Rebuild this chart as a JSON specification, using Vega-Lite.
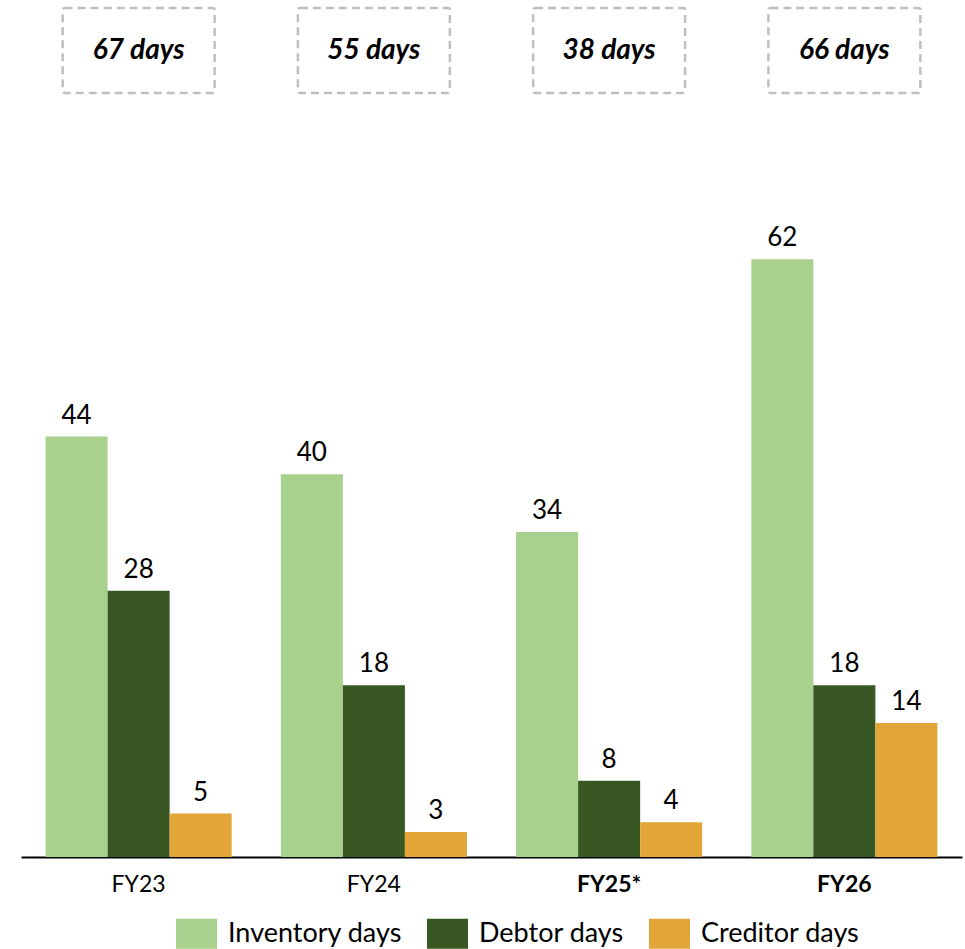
{
  "$schema": "https://vega.github.io/schema/vega-lite/v6.json",
  "padding": {"left": 21, "top": 6, "right": 3, "bottom": 0},
  "background": "white",
  "config": {
    "font": "Lato",
    "view": {"stroke": null},
    "concat": {"spacing": 87}
  },
  "datasets": {
    "totals": [
      {"year": "FY23", "label": "67 days"},
      {"year": "FY24", "label": "55 days"},
      {"year": "FY25*", "label": "38 days"},
      {"year": "FY26", "label": "66 days"}
    ],
    "days": [
      {"year": "FY23", "series": "Inventory days", "value": 43.6},
      {"year": "FY23", "series": "Debtor days", "value": 27.6},
      {"year": "FY23", "series": "Creditor days", "value": 4.5},
      {"year": "FY24", "series": "Inventory days", "value": 39.7},
      {"year": "FY24", "series": "Debtor days", "value": 17.8},
      {"year": "FY24", "series": "Creditor days", "value": 2.6},
      {"year": "FY25*", "series": "Inventory days", "value": 33.7},
      {"year": "FY25*", "series": "Debtor days", "value": 7.9},
      {"year": "FY25*", "series": "Creditor days", "value": 3.6},
      {"year": "FY26", "series": "Inventory days", "value": 62.0},
      {"year": "FY26", "series": "Debtor days", "value": 17.8},
      {"year": "FY26", "series": "Creditor days", "value": 13.9}
    ]
  },
  "resolve": {"scale": {"x": "independent"}},
  "vconcat": [
    {
      "width": 941,
      "height": 85,
      "data": {"name": "totals"},
      "encoding": {
        "x": {
          "field": "year",
          "type": "nominal",
          "sort": null,
          "axis": null,
          "scale": {"paddingInner": 0.354, "paddingOuter": 0.177}
        }
      },
      "layer": [
        {
          "mark": {
            "type": "rect",
            "fill": "white",
            "stroke": "#bfbfbf",
            "strokeWidth": 2.5,
            "strokeDash": [8, 5],
            "cornerRadius": 2
          }
        },
        {
          "mark": {
            "type": "text",
            "fontSize": 28,
            "fontWeight": "bold",
            "fontStyle": "italic",
            "color": "black",
            "baseline": "middle",
            "align": "center"
          },
          "encoding": {"text": {"field": "label"}}
        }
      ]
    },
    {
      "width": 941,
      "height": 675,
      "data": {"name": "days"},
      "encoding": {
        "x": {
          "field": "year",
          "type": "nominal",
          "sort": null,
          "title": null,
          "scale": {"paddingInner": 0.209, "paddingOuter": 0.1045},
          "axis": {
            "domainColor": "black",
            "domainWidth": 2,
            "ticks": false,
            "labelAngle": 0,
            "labelFontSize": 23,
            "labelColor": "black",
            "labelPadding": 16,
            "labelFontWeight": {
              "condition": {"test": "datum.value == 'FY25*' || datum.value == 'FY26'", "value": "bold"},
              "value": "normal"
            }
          }
        },
        "xOffset": {
          "field": "series",
          "type": "nominal",
          "sort": ["Inventory days", "Debtor days", "Creditor days"],
          "scale": {"paddingInner": 0, "paddingOuter": 0}
        },
        "y": {
          "field": "value",
          "type": "quantitative",
          "axis": null,
          "scale": {"domain": [0, 70], "nice": false}
        }
      },
      "layer": [
        {
          "mark": {"type": "bar"},
          "encoding": {
            "color": {
              "field": "series",
              "type": "nominal",
              "sort": ["Inventory days", "Debtor days", "Creditor days"],
              "scale": {
                "domain": ["Inventory days", "Debtor days", "Creditor days"],
                "range": ["#a9d18e", "#385723", "#e3a537"]
              },
              "legend": {
                "orient": "none",
                "legendX": 155,
                "legendY": 905,
                "direction": "horizontal",
                "title": null,
                "symbolType": "M-1,-0.73H1V0.73H-1Z",
                "symbolSize": 1681,
                "symbolStrokeWidth": 0,
                "symbolOpacity": 1,
                "labelFontSize": 27,
                "labelLimit": 400,
                "labelColor": "black",
                "labelOffset": 11,
                "columnPadding": 25
              }
            }
          }
        },
        {
          "mark": {
            "type": "text",
            "fontSize": 26,
            "color": "black",
            "baseline": "bottom",
            "dy": -8
          },
          "encoding": {
            "text": {"field": "value", "type": "quantitative", "format": ".0f"}
          }
        }
      ]
    }
  ]
}
